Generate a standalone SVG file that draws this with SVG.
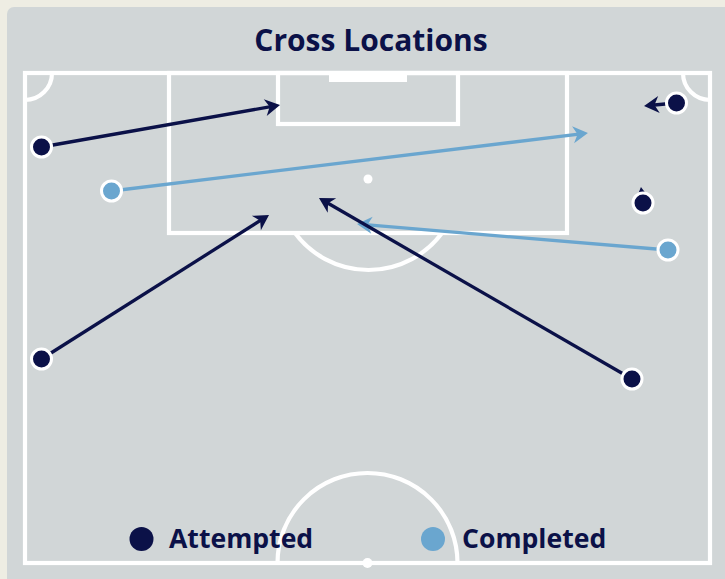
<svg xmlns="http://www.w3.org/2000/svg" width="725" height="579" viewBox="0 0 725 579">
  <style>
    .pitch { fill: none; stroke: #ffffff; stroke-width: 4.2; }
    .spot { fill: #ffffff; }
    .att { stroke: #0b1148; stroke-width: 3.3; fill: none; }
    .comp { stroke: #6aa6cf; stroke-width: 3.3; fill: none; }
    .dot-att { fill: #0b1148; stroke: #ffffff; stroke-width: 3; }
    .dot-comp { fill: #6aa6cf; stroke: #ffffff; stroke-width: 3; }
    .title { font-family: "Open Sans", "Liberation Sans", sans-serif; font-weight: 700; font-size: 30px; fill: #0b1148; }
    .legend { font-family: "Open Sans", "Liberation Sans", sans-serif; font-weight: 700; font-size: 26.6px; fill: #0b1148; }
  </style>
  <defs>
    <marker id="ah-att" markerUnits="userSpaceOnUse" viewBox="-11 -9 18 18" refX="0" refY="0" markerWidth="18" markerHeight="18" orient="auto" overflow="visible">
      <path d="M5,0 L-10,-8.5 L-5.5,0 L-10,8.5 Z" fill="#0b1148"/>
    </marker>
    <marker id="ah-comp" markerUnits="userSpaceOnUse" viewBox="-11 -9 18 18" refX="0" refY="0" markerWidth="18" markerHeight="18" orient="auto" overflow="visible">
      <path d="M5,0 L-10,-8.5 L-5.5,0 L-10,8.5 Z" fill="#6aa6cf"/>
    </marker>
  </defs>

  <rect x="0" y="0" width="725" height="579" fill="#eeede3"/>
  <rect x="7" y="7" width="730" height="590" rx="7" fill="#d1d6d7"/>

  <text class="title" x="371" y="51" text-anchor="middle">Cross Locations</text>

  <g id="pitch">
    <rect class="pitch" x="25" y="73" width="685" height="490"/>
    <rect class="pitch" x="169" y="73" width="398" height="160"/>
    <rect class="pitch" x="278" y="73" width="180" height="51"/>
    <rect class="spot" x="329" y="73" width="78" height="9"/>
    <circle class="spot" cx="368" cy="179" r="4.5"/>
    <path class="pitch" d="M295,233 A91.5,91.5 0 0 0 442,233"/>
    <path class="pitch" d="M25,100 A27,27 0 0 0 52,73"/>
    <path class="pitch" d="M683,73 A27,27 0 0 0 710,100"/>
    <path class="pitch" d="M277.5,563 A90,90 0 0 1 457.5,563"/>
    <circle class="spot" cx="367.5" cy="563" r="5"/>
  </g>

  <g id="connectors">
    <line class="att" x1="41.5" y1="147" x2="275.1" y2="105.9" marker-end="url(#ah-att)"/>
    <line class="att" x1="41.5" y1="359" x2="264.8" y2="217.7" marker-end="url(#ah-att)"/>
    <line class="att" x1="676" y1="103" x2="649" y2="105.5" marker-end="url(#ah-att)"/>
    <line class="att" x1="643" y1="203" x2="641.6" y2="192" marker-end="url(#ah-att)"/>
    <line class="comp" x1="111.5" y1="191" x2="583" y2="133.6" marker-end="url(#ah-comp)"/>
    <line class="comp" x1="668" y1="250" x2="362" y2="224.4" marker-end="url(#ah-comp)"/>
    <line class="att" x1="632" y1="379" x2="323.3" y2="200.5" marker-end="url(#ah-att)"/>
  </g>

  <g id="nodes">
    <circle id="a1" class="dot-att" cx="41.5" cy="147" r="10"/>
    <circle id="a2" class="dot-att" cx="41.5" cy="359" r="10"/>
    <circle id="a3" class="dot-att" cx="632" cy="379" r="10"/>
    <circle id="a4" class="dot-att" cx="676.5" cy="103" r="10"/>
    <circle id="a5" class="dot-att" cx="643" cy="203" r="10"/>
    <circle id="c1" class="dot-comp" cx="111.5" cy="191" r="10"/>
    <circle id="c2" class="dot-comp" cx="668" cy="250" r="10"/>
  </g>

  <g id="legend">
    <circle cx="141.5" cy="539" r="12" fill="#0b1148"/>
    <text class="legend" x="169" y="548">Attempted</text>
    <circle cx="433" cy="539" r="12" fill="#6aa6cf"/>
    <text class="legend" x="462" y="548">Completed</text>
  </g>
</svg>
